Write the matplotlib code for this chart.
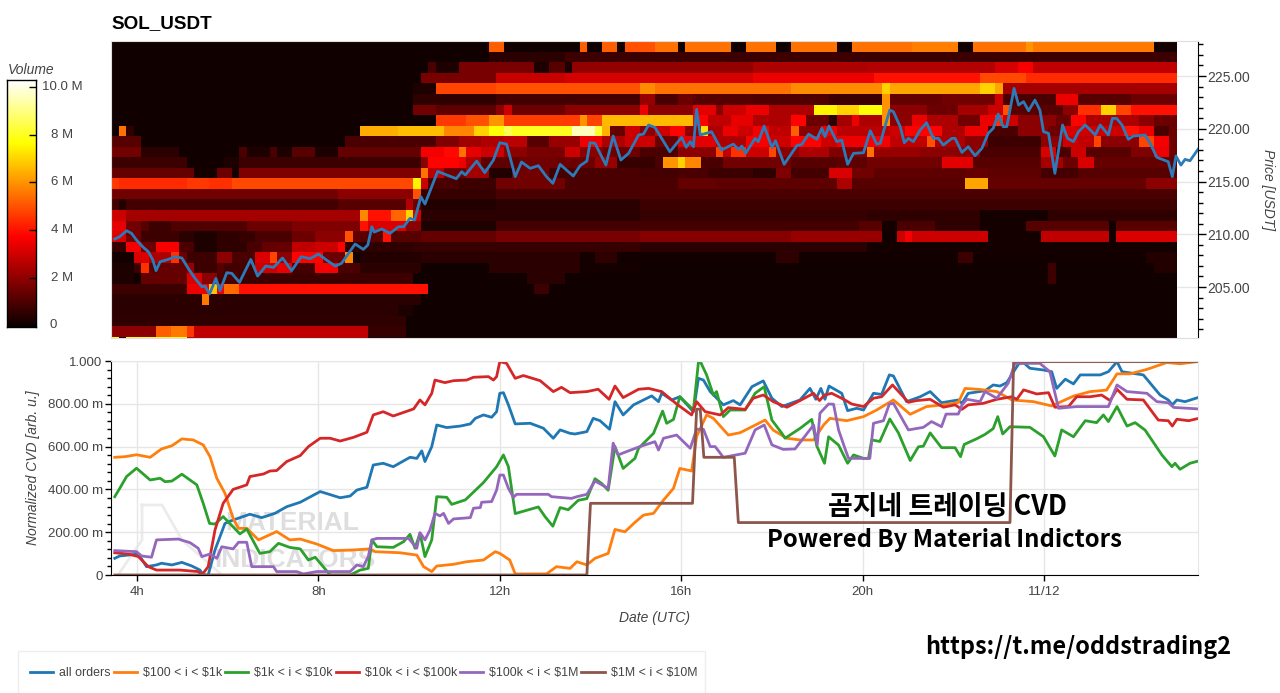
import numpy as np
import matplotlib
matplotlib.use("Agg")
from matplotlib import pyplot as plt
from matplotlib.lines import Line2D
from matplotlib.patches import Rectangle
from matplotlib.ticker import FixedLocator, MultipleLocator, FuncFormatter

plt.rcParams['font.family'] = ['Liberation Sans', 'DejaVu Sans']

W, H = 1280, 693

# heatmap rows, top row first: (last column, volume in millions) runs over 141 columns of 10 min
heat_rows = [
    [(50,.1),(52,5.2),(62,.1),(63,5.2),(65,.1),(67,5.2),(68,.1),(72,5.0),(75,5.5),(76,.1),(82,5.5),(84,.1),(88,5.5),(90,.1),(96,5.5),(98,.1),(106,5.5),(112,5.7),(114,.1),(121,5.5),(122,6),(138,5.6),(141,.2)],
    [(50,.1),(60,.5),(141,.8)],
    [(42,.1),(43,1),(46,.3),(56,1.7),(58,.3),(60,1.2),(61,.3),(85,2.1),(100,2.5),(117,2.6),(120,3.1),(122,3.7),(141,2.8)],
    [(41,.1),(51,1.7),(60,2.9),(85,3.1),(101,3.5),(115,4.0),(121,4.9),(141,4.4)],
    [(40,.1),(43,.3),(51,4.8),(70,5.0),(72,5.9),(90,5.5),(102,5.9),(103,7),(115,6.3),(117,7),(118,6.3),(141,2.4)],
    [(40,.1),(51,.6),(70,.9),(72,2.2),(75,1),(77,1.5),(85,1.2),(95,1.1),(102,.8),(103,6),(110,1.4),(117,1.6),(118,3),(125,1),(128,3.5),(135,1.2),(141,1.5)],
    [(40,.1),(43,1.6),(51,1.3),(52,2),(53,3),(60,1.5),(70,2),(71,3.5),(77,2),(80,3.3),(81,2),(84,3),(87,3.5),(93,2.5),(96,7.5),(99,7),(102,7.7),(103,6),(108,2),(112,1.5),(116,2.4),(118,3),(119,5),(126,1.2),(128,2),(131,4.5),(133,7),(135,4.8),(141,4)],
    [(43,.1),(47,4.6),(50,5),(52,6),(62,4.7),(63,6),(65,4.8),(77,6.6),(79,3.8),(82,2.8),(85,3.4),(90,2.5),(92,3.8),(95,1.5),(96,.5),(98,2.4),(99,3.5),(102,2.5),(103,6),(106,2),(108,3.5),(112,2.5),(115,1.6),(117,3.5),(118,4.5),(120,3),(125,2),(127,1.5),(129,3.8),(136,2.5),(138,2),(141,1.5)],
    [(1,.1),(2,5.5),(3,.6),(33,.1),(38,6.4),(44,6.7),(48,5.8),(50,7),(52,7.7),(53,8.5),(61,8),(64,9.6),(65,8.2),(66,6.5),(68,1.4),(70,3),(72,2),(74,3),(76,3.8),(78,2),(79,7.2),(81,2.5),(83,3.5),(85,3),(87,3.6),(90,2.8),(91,5.2),(94,2),(96,3.5),(103,2.7),(105,3),(110,3.8),(113,2.5),(116,3.5),(120,1),(124,2),(126,1.5),(128,3.2),(134,3),(136,4),(138,3.5),(140,1),(141,1.5)],
    [(4,1.2),(31,.1),(43,1),(46,1.8),(49,2.3),(52,2.5),(55,2.7),(58,1.2),(62,2.2),(65,3.5),(68,2.5),(72,3),(75,1.5),(80,3.3),(84,2.5),(87,3.7),(90,3),(94,3.8),(96,3),(100,3.5),(103,3.7),(108,2.8),(109,5),(113,2.5),(116,2),(123,.8),(126,2),(128,3),(130,2.8),(131,4.8),(136,2),(138,4.8),(140,3.6),(141,1.5)],
    [(4,1.6),(9,.5),(17,.1),(18,1),(21,.3),(22,1),(24,.3),(27,1.2),(30,.3),(41,1.4),(44,3.6),(46,3.9),(47,5.5),(49,3.4),(52,3),(55,2),(60,1.7),(62,3),(65,2),(70,1.5),(75,1),(80,2),(81,4.8),(82,2.8),(84,4.5),(87,3),(88,4.8),(91,2),(95,2.5),(100,1.8),(101,5.5),(107,2.2),(115,2),(123,1),(125,3.2),(127,1),(129,3),(135,1.2),(138,1.8),(140,3.5),(141,1.5)],
    [(10,.8),(15,.15),(17,.3),(41,.8),(42,2),(46,3.8),(47,3.5),(49,2.5),(54,1.3),(59,1.6),(64,1.5),(67,2.2),(72,.7),(73,1),(75,6),(76,7),(78,5.8),(81,1),(90,1.6),(96,1.2),(100,1.3),(110,1.6),(114,3.3),(123,1.2),(126,2.4),(128,1.5),(130,3.2),(141,1.4)],
    [(11,1.4),(14,.2),(16,1.5),(17,.2),(41,1.8),(42,5.5),(44,2.7),(47,1.6),(50,2.4),(53,.4),(58,1.6),(60,.9),(70,1),(75,.9),(79,1),(85,.8),(88,.6),(90,1.8),(95,.9),(98,3.2),(101,1.6),(113,1.3),(116,1.4),(123,1.3),(128,.9),(141,1.2)],
    [(1,4.6),(10,4.4),(13,4.6),(16,4.5),(40,4.9),(41,7.5),(42,3),(46,1),(51,.8),(60,1.6),(75,1),(80,1.4),(96,1.3),(98,2.5),(113,1.2),(116,6.3),(137,1.4),(141,2)],
    [(30,1.6),(40,2),(41,5),(51,.7),(141,1)],
    [(1,.9),(2,.4),(30,.9),(39,1.2),(40,2.6),(41,1.5),(51,.4),(70,.5),(141,.8)],
    [(2,3),(33,2.4),(34,5.8),(37,4),(39,5.3),(40,7),(41,3),(70,.5),(100,.7),(115,.6),(124,.2),(141,.6)],
    [(2,3.4),(4,1.6),(5,1.2),(8,.8),(18,1.1),(24,1.5),(33,1.8),(34,4),(39,3.2),(41,2),(51,.3),(99,.9),(102,1.2),(104,.2),(109,1),(115,.6),(121,.2),(132,1.2),(133,.1),(141,1.2)],
    [(2,3.2),(4,1.6),(9,.8),(11,.5),(14,.3),(17,.6),(19,.7),(24,1),(27,1.5),(31,2),(32,5),(33,1.4),(36,1.2),(37,4),(41,1.2),(51,1.4),(70,1.7),(90,1.9),(102,2.2),(104,.1),(105,3),(106,3.6),(116,3),(123,.2),(132,2.8),(133,.1),(141,3.2)],
    [(2,.7),(4,3.6),(6,1.5),(9,3.7),(11,1),(14,.3),(18,.6),(20,1),(24,1.4),(27,2.8),(30,3),(31,3.8),(40,.6),(70,.7),(100,.5),(141,.2)],
    [(3,.2),(5,3.2),(8,2.5),(9,4.5),(10,1.5),(14,.8),(16,2),(19,1),(21,3.2),(22,4.8),(24,2),(28,3.8),(31,1.5),(32,5.8),(33,.1),(41,.4),(62,.5),(64,.2),(67,.6),(88,.15),(91,.6),(112,.15),(114,.8),(137,.15),(141,.4)],
    [(3,.3),(4,.8),(5,4.5),(6,1.2),(10,1.4),(11,2.2),(14,.8),(15,1.2),(19,.9),(22,3),(24,3.4),(27,.9),(30,3.7),(33,1),(41,.5),(50,.1),(53,.5),(62,.5),(70,.2),(124,.1),(125,.8),(138,.1),(141,.4)],
    [(3,.3),(4,.1),(10,1.4),(12,3.2),(14,2),(17,1),(40,.8),(55,.1),(60,.5),(124,.1),(125,.8),(141,.1)],
    [(10,.8),(13,3.5),(14,6.8),(15,3.6),(17,5.4),(42,4),(56,.1),(58,.8),(141,.1)],
    [(12,.5),(13,5.6),(41,.5),(141,.1)],
    [(38,.5),(40,.3),(141,.1)],
    [(39,.6),(141,.1)],
    [(6,2),(8,5.2),(10,5.6),(11,4.6),(34,2.8),(39,.7),(141,.1)],
    [(1,8),(2,.1),(10,8),(34,2.5),(141,.1)],
]

vol_ticks = [0, 2, 4, 6, 8, 10]
vol_labels = ['0', '2 M', '4 M', '6 M', '8 M', '10.0 M']
price_ticks = [205, 210, 215, 220, 225]

# all times in hours since 00:00 (UTC) of the previous day
price_t = [3.51,3.62,3.77,3.88,3.99,4.14,4.25,4.35,4.42,4.51,4.69,4.84,4.99,5.13,5.28,5.43,5.5,5.6,5.74,5.83,5.98,6.09,6.26,6.51,6.66,6.84,7.01,7.21,7.41,7.62,7.82,8.0,8.18,8.37,8.51,8.81,8.99,9.09,9.18,9.23,9.4,9.58,9.77,9.88,10.02,10.12,10.26,10.35,10.63,10.83,11.04,11.16,11.24,11.49,11.67,11.86,12.0,12.15,12.34,12.48,12.67,12.85,13.03,13.17,13.33,13.62,13.77,13.92,13.99,14.1,14.34,14.5,14.67,14.84,15.06,15.17,15.28,15.42,15.75,16.01,16.11,16.2,16.27,16.34,16.42,16.67,16.89,17.15,17.26,17.34,17.42,17.63,17.7,17.83,18.0,18.08,18.27,18.55,18.66,18.81,18.99,19.1,19.17,19.26,19.43,19.54,19.67,19.8,20.02,20.17,20.31,20.39,20.47,20.6,20.68,20.83,20.92,21.01,21.12,21.27,21.41,21.56,21.67,21.78,21.97,22.04,22.19,22.33,22.48,22.63,22.77,22.88,22.99,23.1,23.18,23.34,23.44,23.55,23.66,23.8,23.91,23.99,24.1,24.24,24.41,24.52,24.65,24.76,24.91,25.13,25.24,25.42,25.51,25.6,25.72,25.86,25.97,26.23,26.34,26.49,26.74,26.83,26.91,27.02,27.11,27.22,27.41]
price = [209.55,209.77,210.34,210.09,209.45,208.76,208.35,207.56,206.55,207.4,207.62,207.87,207.75,206.77,205.82,205.03,205.09,204.34,205.82,204.65,206.36,206.3,205.44,207.62,206.04,206.99,206.86,207.75,206.55,207.87,207.69,208.13,207.56,206.99,207.24,209.08,208.57,208.98,210.72,210.21,210.5,210.09,210.72,210.72,211.51,211.35,213.56,212.87,215.96,215.62,215.27,215.93,215.62,216.94,215.84,217.04,218.68,218.55,215.46,216.85,216.25,216.5,215.46,214.83,216.63,215.52,216.5,216.94,218.68,218.62,216.56,219.31,217.04,217.67,219.41,219.5,220.36,220.13,217.83,219.19,218.24,218.78,218.3,221.84,219.41,219.72,217.99,218.55,218.05,218.36,217.67,219.09,218.78,220.26,218.24,218.87,216.63,218.4,218.52,219.5,219,220.04,219.25,220.26,218.78,218.93,216.63,217.67,217.73,219.82,218.55,218.62,219.88,221.77,221.62,220.2,218.68,219.09,218.78,219.88,220.58,219.09,219.09,218.46,219.09,219.09,217.76,218.3,217.45,218.14,219.57,220.04,221.4,220.2,220.2,223.83,222.25,222.57,221.71,222.72,221.77,219.72,219.57,215.77,220.36,219.09,218.78,219.72,220.36,219.41,220.36,219.41,220.99,220.99,220.36,219,219.31,219.41,218.62,217.29,216.88,215.46,217.42,216.56,217.1,216.97,218.14]

all_t = [3.51,3.62,4.03,4.21,4.43,4.54,4.77,4.99,5.21,5.39,5.46,5.57,5.72,5.94,6.12,6.49,6.75,7.04,7.3,7.6,8.04,8.48,8.7,8.85,9.07,9.21,9.43,9.65,10.02,10.17,10.28,10.35,10.5,10.61,10.83,11.13,11.35,11.46,11.64,11.82,11.93,12.0,12.08,12.19,12.34,12.67,12.96,13.18,13.33,13.55,13.66,13.92,14.06,14.21,14.42,14.54,14.72,14.95,15.17,15.35,15.5,15.57,15.79,15.97,16.27,16.38,16.49,16.64,16.93,17.15,17.3,17.56,17.81,18,18.22,18.62,18.84,18.97,19.08,19.17,19.26,19.54,19.67,19.87,20.02,20.24,20.42,20.59,20.68,20.97,21.27,21.49,21.74,22.11,22.19,22.33,22.7,22.88,23.03,23.18,23.33,23.44,23.55,23.69,23.99,24.17,24.28,24.47,24.65,24.8,25.24,25.42,25.61,25.72,26.19,26.56,26.74,26.83,26.93,27.11,27.41]
all_cvd = [78,89,98,39,47,55,47,59,42,23,0,0,117,241,257,284,268,288,319,340,390,361,369,397,410,514,522,506,550,545,580,530,600,701,689,696,706,732,748,737,763,849,852,795,706,709,686,639,678,662,659,670,732,721,681,810,748,795,818,837,810,849,818,833,763,919,911,857,795,815,795,880,907,826,787,818,872,821,872,821,883,849,768,779,771,849,844,935,930,810,833,857,805,818,802,849,861,888,883,899,950,986,992,966,958,950,872,915,893,935,935,950,997,950,935,841,818,795,818,810,830]

k1_t = [3.51,3.74,3.99,4.29,4.54,4.77,4.99,5.24,5.46,5.61,5.76,5.94,6.12,6.24,6.42,6.68,7.08,7.37,7.6,7.96,8.33,8.77,9.14,9.25,9.8,10.17,10.32,10.5,10.61,10.98,11.27,11.64,11.9,12.0,12.22,12.34,13.03,13.25,13.55,13.7,13.92,14.1,14.39,14.54,14.76,14.98,15.17,15.39,15.61,15.83,15.97,16.23,16.34,16.56,16.71,17.04,17.3,17.59,17.85,18.03,18.33,18.62,18.92,19.14,19.28,19.65,20.02,20.31,20.68,21.05,21.41,21.78,22.11,22.26,22.59,22.96,23.29,23.77,24.17,24.65,25.02,25.38,25.61,25.9,26.27,26.71,27,27.41]
k1_cvd = [550,553,562,550,589,604,636,631,608,553,452,382,265,218,218,164,203,164,168,145,114,117,122,109,104,93,39,16,42,50,62,70,109,101,70,5,5,39,31,62,47,78,101,213,202,246,280,288,350,405,498,486,647,748,732,654,665,696,724,677,639,631,631,701,732,721,740,771,818,751,787,795,806,872,867,857,818,810,790,836,857,864,940,940,961,993,987,998]

k10_t = [3.51,3.62,3.77,3.99,4.29,4.51,4.62,4.77,4.99,5.32,5.46,5.6,5.72,5.9,6.27,6.42,6.71,6.93,7.12,7.37,7.6,7.78,7.93,8.26,8.7,8.92,9.1,9.18,9.29,9.65,9.88,10.02,10.13,10.24,10.35,10.5,10.61,10.83,10.94,11.24,11.64,11.93,12.08,12.19,12.34,12.67,12.85,13.0,13.17,13.33,13.51,13.73,13.92,14.1,14.25,14.39,14.54,14.72,14.98,15.06,15.39,15.59,15.68,15.83,15.97,16.27,16.38,16.43,16.56,16.71,16.78,16.93,17.08,17.41,17.63,17.83,18,18.22,18.29,18.62,18.88,18.99,19.16,19.25,19.47,19.67,19.8,20.02,20.13,20.2,20.38,20.6,20.79,21.05,21.23,21.34,21.49,21.74,22.04,22.16,22.24,22.52,22.7,22.88,22.98,23.09,23.25,23.69,23.99,24.24,24.39,24.65,24.91,25.16,25.31,25.42,25.61,25.83,26.01,26.23,26.6,26.82,26.89,27,27.22,27.41]
k10_cvd = [366,405,460,499,444,452,436,439,471,421,335,241,238,273,192,215,101,109,148,129,122,70,83,0,0,23,31,164,132,129,156,190,125,195,86,164,366,363,330,351,432,506,561,506,287,307,318,272,228,315,305,349,357,450,427,396,600,498,545,592,662,766,709,727,833,771,994,994,935,841,857,740,771,771,849,880,724,662,639,685,727,603,522,646,607,522,561,545,545,631,624,729,664,535,599,602,664,595,595,553,610,637,657,684,740,659,693,690,646,556,678,646,721,712,748,717,787,696,712,677,561,506,522,494,522,533]

k100_t = [3.51,3.81,4.03,4.25,4.43,4.95,5.35,5.43,5.57,5.72,5.9,6.12,6.42,6.49,6.79,6.93,7.08,7.3,7.6,7.78,8.04,8.26,8.48,8.77,9.07,9.21,9.43,9.65,10.1,10.24,10.35,10.5,10.57,10.79,10.98,11.27,11.42,11.75,11.86,11.93,12.0,12.15,12.34,12.52,12.89,13.18,13.36,13.55,13.92,14.17,14.41,14.54,14.72,15.06,15.28,15.57,15.9,16.23,16.34,16.53,16.86,17.04,17.41,17.59,17.81,18.03,18.33,18.62,18.92,19.05,19.16,19.32,19.61,19.76,20.02,20.24,20.42,20.66,20.83,21.01,21.19,21.49,21.78,22.04,22.19,22.33,22.66,22.96,23.29,23.4,23.55,23.84,24.1,24.24,24.54,24.72,25.02,25.27,25.46,25.61,25.83,26.19,26.52,26.74,26.83,26.93,27.19,27.41]
k100_cvd = [104,98,86,39,23,23,16,0,39,210,335,400,421,460,472,486,488,530,558,600,639,639,626,643,667,748,763,743,776,818,795,849,911,899,908,911,924,927,911,927,997,989,919,932,908,857,877,852,857,868,821,883,829,868,872,857,799,748,810,763,748,782,774,826,841,810,784,815,849,815,841,849,818,799,787,826,833,888,849,807,815,821,784,795,774,795,802,821,833,821,865,846,852,784,787,833,833,841,815,868,821,818,724,721,696,728,721,732]

m1_t = [3.51,3.99,4.1,4.32,4.43,4.91,5.17,5.35,5.43,5.61,5.76,5.87,6.12,6.24,6.42,6.53,7.01,7.08,7.52,7.67,7.96,8.7,8.85,8.99,9.1,9.18,9.29,9.99,10.17,10.24,10.35,10.46,10.57,10.68,10.76,10.87,10.98,11.35,11.42,11.57,11.6,11.82,11.93,12.0,12.08,12.19,12.3,12.37,13.07,13.14,13.58,13.7,13.92,14.1,14.39,14.5,14.61,14.8,15.09,15.42,15.5,15.61,15.9,16.2,16.34,16.49,16.64,16.75,16.93,17.41,17.63,17.83,18,18.25,18.51,18.92,19,19.06,19.25,19.36,19.47,19.61,19.69,20.16,20.24,20.46,20.59,20.68,21.01,21.34,21.52,21.74,21.84,22.11,22.19,22.3,22.59,22.7,22.96,23.21,23.36,23.91,24.13,24.32,24.72,25.42,25.61,25.83,26.27,26.49,26.74,26.86,27.41]
m1_cvd = [114,109,89,83,164,168,151,125,86,98,78,132,122,153,153,39,39,16,16,5,16,16,47,39,86,164,171,171,125,198,164,210,288,276,288,241,262,268,312,315,340,343,397,467,467,405,363,377,377,366,358,366,377,439,405,616,561,577,600,623,584,639,654,592,681,681,600,600,550,569,678,701,608,587,589,701,608,756,799,798,678,592,545,545,709,721,799,802,678,690,717,693,752,752,794,821,810,857,826,896,989,989,950,779,787,787,888,857,849,810,805,783,776]

m10_t = [3.51,13.92,14.0,16.25,16.34,16.42,16.5,17.17,17.26,23.25,23.33,27.41]
m10_cvd = [0,0,335,335,775,775,550,550,245,245,997,997]

cvd_series = [
    ('all orders', '#1f77b4', all_t, all_cvd),
    (r'\$100 < i < \$1k', '#ff7f0e', k1_t, k1_cvd),
    (r'\$1k < i < \$10k', '#2ca02c', k10_t, k10_cvd),
    (r'\$10k < i < \$100k', '#d62728', k100_t, k100_cvd),
    (r'\$100k < i < \$1M', '#9467bd', m1_t, m1_cvd),
    (r'\$1M < i < \$10M', '#8c564b', m10_t, m10_cvd),
]
hour_ticks = [4, 8, 12, 16, 20, 24]
hour_labels = ['4h', '8h', '12h', '16h', '20h', '11/12']
cvd_ticks = [0, 200, 400, 600, 800, 1000]
cvd_labels = ['0', '200.00 m', '400.00 m', '600.00 m', '800.00 m', '1.000']

TICK = '#444444'


def axes_px(left, top, right, bottom):
    return [left / W, 1 - bottom / H, (right - left) / W, (bottom - top) / H]


def fx(x):
    return x / W


def fy(y):
    return 1 - y / H


fig = plt.figure(figsize=(W / 100, H / 100), dpi=100, facecolor='white')
xlim = (3.427, 27.396)

# price heatmap
ax = fig.add_axes(axes_px(111, 41, 1198, 338))
heat = np.zeros((len(heat_rows), 141))
for r, runs in enumerate(heat_rows):
    start = 0
    for end, v in runs:
        heat[r, start:end] = v
        start = end
col_edges = 3.427 + np.arange(142) / 6
row_edges = 228.3 - np.arange(len(heat_rows) + 1)
ax.grid(True, axis='y', color='#e6e6e6', lw=1)
ax.set_axisbelow(True)
ax.pcolormesh(col_edges, row_edges, heat, cmap='hot', vmin=0, vmax=10.3, zorder=1)
ax.plot(price_t, price, color='#2b7bba', lw=2, zorder=3)
ax.set_xlim(xlim)
ax.set_ylim(200.17, 228.32)
ax.xaxis.set_visible(False)
ax.yaxis.tick_right()
ax.yaxis.set_label_position('right')
ax.yaxis.set_major_locator(FixedLocator(price_ticks))
ax.yaxis.set_minor_locator(MultipleLocator(1))
ax.yaxis.set_major_formatter(FuncFormatter(lambda v, p: '%.2f' % v))
ax.tick_params(axis='y', which='major', length=5.5, width=1, colors='black', labelcolor=TICK, labelsize=10, pad=1.5)
ax.tick_params(axis='y', which='minor', length=3.5, width=1, color='black')
for s in ['top', 'left', 'bottom']:
    ax.spines[s].set_color('#dddddd')
ax.spines['right'].set_color('black')
ax.set_ylabel('Price [USDT]', style='italic', rotation=270, fontsize=10, color=TICK, labelpad=18)
fig.text(fx(111), fy(24), 'SOL_USDT', fontsize=13.6, fontweight='bold', va='center', ha='left')

# colour bar
cax = fig.add_axes(axes_px(7, 80, 36, 327))
grad = np.linspace(0, 10.3, 256).reshape(-1, 1)
cax.imshow(grad, origin='lower', aspect='auto', cmap='hot', vmin=0, vmax=10.3, extent=(0, 1, -.08, 10.3))
cax.set_xticks([])
cax.yaxis.tick_right()
cax.set_yticks(vol_ticks)
cax.set_yticklabels([])
cax.tick_params(axis='y', length=5, width=1, direction='in', color='black')
for s in cax.spines.values():
    s.set_linewidth(1)
for t, lab in zip(vol_ticks, vol_labels):
    cax.annotate(lab, (1, t), xycoords=('axes fraction', 'data'), xytext=(17 if t == 0 else 26, 0),
                 textcoords='offset pixels', ha='center', va='center', fontsize=9.5, color=TICK)
fig.text(fx(8), fy(70), 'Volume', style='italic', fontsize=10, color=TICK, va='center')

# normalized CVD
bx = fig.add_axes(axes_px(111, 361, 1198, 575))
bx.patch.set_alpha(0)
bx.grid(True, color='#e6e6e6', lw=1)
bx.set_axisbelow(True)
for name, color, t, y in cvd_series:
    bx.plot(t, y, color=color, lw=2, label=name, solid_joinstyle='round')
bx.set_xlim(xlim)
bx.set_ylim(0, 1000)
bx.set_xticks(hour_ticks, hour_labels)
bx.set_yticks(cvd_ticks, cvd_labels)
bx.yaxis.set_minor_locator(MultipleLocator(40))
bx.tick_params(axis='both', which='major', length=4.5, width=1, labelcolor=TICK, labelsize=9.5)
bx.tick_params(axis='y', which='major', pad=1.5)
bx.tick_params(axis='y', which='minor', length=3, width=1)
bx.spines['top'].set_color('#e6e6e6')
bx.spines['right'].set_color('#e6e6e6')
bx.set_xlabel('Date (UTC)', style='italic', fontsize=10, color=TICK, labelpad=9)
bx.set_ylabel('Normalized CVD [arb. u.]', style='italic', fontsize=10, color=TICK, labelpad=5.5)

# watermark
fig.text(fx(292), fy(523), 'MATERIAL', fontsize=19, fontweight='bold', color='#000000', alpha=.13, ha='center', va='center', zorder=-1)
fig.text(fx(295), fy(560), 'INDICATORS', fontsize=19, fontweight='bold', color='#000000', alpha=.13, ha='center', va='center', zorder=-1)
fig.add_artist(Line2D([fx(v) for v in [142, 142, 118, 222, 182, 162, 162, 142]],
                      [fy(v) for v in [505, 540, 575, 575, 540, 505, 505, 505]],
                      color='#000000', alpha=.08, lw=2, zorder=-1))

# overlay text
kr = ['Noto Sans CJK KR', 'DejaVu Sans']
fig.text(fx(947), fy(507), '곰지네 트레이딩 CVD', family=kr, fontsize=19.4, fontweight='bold', ha='center', va='center', color='black')
fig.text(fx(944), fy(540), 'Powered By Material Indictors', family=kr, fontsize=17.2, fontweight='bold', ha='center', va='center', color='black')
fig.text(fx(1078), fy(647), 'https://t.me/oddstrading2', family=kr, fontsize=16.9, fontweight='bold', ha='center', va='center', color='black')

# legend, with its box drawn apart so the row sits at the right height
fig.add_artist(Rectangle((fx(18), fy(700)), 687 / W, 49 / H, transform=fig.transFigure,
                         facecolor='white', edgecolor='#eeeeee', lw=1))
handles, labels = bx.get_legend_handles_labels()
leg = fig.legend(handles, labels, ncol=6, loc='center left', bbox_to_anchor=(fx(30), fy(673)),
                 frameon=False, fontsize=8.9, handlelength=1.87, handletextpad=.49, columnspacing=.24,
                 borderpad=0, borderaxespad=0, labelcolor=TICK)

fig.savefig('out.png', dpi=100)
